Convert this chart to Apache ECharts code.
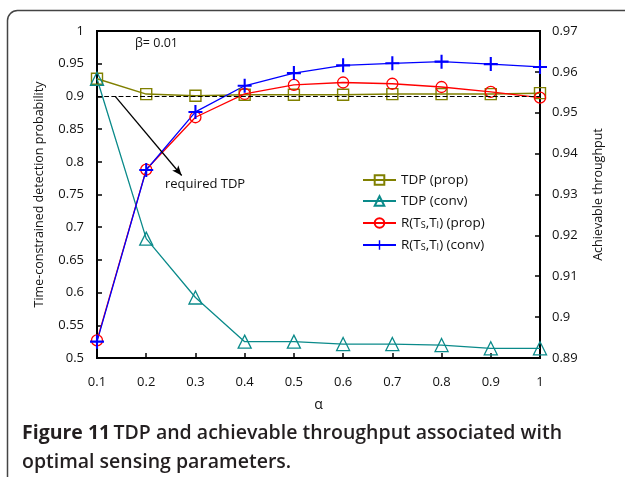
<!DOCTYPE html>
<html>
<head>
<meta charset="utf-8">
<script src="https://cdn.jsdelivr.net/npm/echarts@6/dist/echarts.min.js"></script>
<style>
  html, body { margin: 0; padding: 0; background: #fff; }
  #chart { width: 625px; height: 477px; }
</style>
</head>
<body>
<div id="chart"></div>
<script>
// alpha values on the x axis
const alphas = [0.1, 0.2, 0.3, 0.4, 0.5, 0.6, 0.7, 0.8, 0.9, 1.0];

// time-constrained detection probability (left axis)
const tdpProp = [0.927, 0.9035, 0.901, 0.9025, 0.9025, 0.9025, 0.9035, 0.9035, 0.9035, 0.905];
const tdpConv = [0.927, 0.6825, 0.5925, 0.525, 0.525, 0.5213, 0.5213, 0.5198, 0.5148, 0.5148];

// achievable throughput (right axis)
const rProp = [0.8943, 0.9361, 0.9489, 0.9546, 0.9568, 0.9574, 0.9571, 0.9563, 0.9551, 0.9537];
const rConv = [0.8940, 0.9360, 0.9502, 0.9566, 0.9597, 0.9616, 0.9621, 0.9625, 0.9619, 0.9612];

const requiredTdp = 0.9;
const beta = 0.01;

const FONT = 'Open Sans';
const pair = (ys) => alphas.map((a, i) => [a, ys[i]]);

const plusPath = 'path://M4.25,0H5.75V10H4.25Z M0,4.25H10V5.75H0Z';

const chart = echarts.init(document.getElementById('chart'));

const legendRich = {
  n: { fontFamily: FONT, fontSize: 13.5, color: '#111', lineHeight: 14 },
  s: { fontFamily: FONT, fontSize: 9, color: '#111', verticalAlign: 'bottom', padding: [6, 0, 0, 0], lineHeight: 14 }
};

chart.setOption({
  animation: false,
  textStyle: { fontFamily: FONT },
  grid: {
    left: 97, right: 85, top: 31, bottom: 119,
    show: true, borderColor: '#000', borderWidth: 2, backgroundColor: 'transparent'
  },
  xAxis: {
    type: 'value', min: 0.1, max: 1, interval: 0.1,
    name: 'α', nameLocation: 'middle', nameGap: 40,
    nameTextStyle: { fontFamily: FONT, fontSize: 14, color: '#111' },
    axisLine: { lineStyle: { color: '#000', width: 2 } },
    axisTick: { inside: true, length: 5, lineStyle: { color: '#000', width: 1.5 } },
    axisLabel: { fontSize: 13, color: '#111', margin: 18, formatter: v => String(+v.toFixed(1)) },
    splitLine: { show: false }
  },
  yAxis: [{
    type: 'value', min: 0.5, max: 1, interval: 0.05, position: 'left',
    name: 'Time-constrained detection probability', nameLocation: 'middle', nameGap: 51,
    nameTextStyle: { fontFamily: FONT, fontSize: 12.5, color: '#111' },
    axisLine: { show: true, lineStyle: { color: '#000', width: 2 } },
    axisTick: { show: true, inside: true, length: 5, lineStyle: { color: '#000', width: 1.5 } },
    axisLabel: { fontSize: 13, color: '#111', margin: 13, formatter: v => String(+v.toFixed(2)) },
    splitLine: { show: false }
  }, {
    type: 'value', min: 0.89, max: 0.97, interval: 0.01, position: 'right',
    name: 'Achievable throughput', nameLocation: 'middle', nameGap: 52,
    nameRotate: 90,
    nameTextStyle: { fontFamily: FONT, fontSize: 12.5, color: '#111' },
    axisLine: { show: true, lineStyle: { color: '#000', width: 2 } },
    axisTick: { show: true, inside: true, length: 5, lineStyle: { color: '#000', width: 1.5 } },
    axisLabel: { fontSize: 13, color: '#111', margin: 12, formatter: v => String(+v.toFixed(2)) },
    splitLine: { show: false }
  }],
  legend: {
    orient: 'vertical', left: 357, top: 168, padding: 5,
    itemWidth: 33, itemHeight: 12, itemGap: 7,
    textStyle: { fontFamily: FONT, fontSize: 13.5, color: '#111', rich: legendRich },
    formatter: name => {
      if (name.startsWith('R')) {
        const tag = name.endsWith('(prop)') ? ' (prop)' : ' (conv)';
        return '{n|R(T}{s|S}{n|,T}{s|I}{n|)' + tag + '}';
      }
      return '{n|' + name + '}';
    },
    data: ['TDP (prop)', 'TDP (conv)', 'R (prop)', 'R (conv)']
  },
  graphic: [
    {
      type: 'rect', silent: true,
      shape: { x: 7.5, y: 10.5, width: 700, height: 600, r: 10 },
      style: { fill: 'none', stroke: '#444', lineWidth: 1.5 }
    },
    {
      type: 'text', left: 135, top: 37,
      style: { text: 'β= ' + beta, fontFamily: FONT, fontSize: 12.5, fill: '#111' }
    },
    {
      type: 'text', left: 165, top: 178,
      style: { text: 'required TDP', fontFamily: FONT, fontSize: 13, fill: '#111' }
    },
    {
      type: 'text', left: 22, top: 419,
      style: {
        text: '{b|Figure 11} {n|TDP and achievable throughput associated with}\n{n|optimal sensing parameters.}',
        lineHeight: 29,
        rich: {
          b: { fontFamily: FONT, fontSize: 19.5, fontWeight: 'bold', fill: '#231f20', lineHeight: 29 },
          n: { fontFamily: FONT, fontSize: 19.5, fontWeight: 600, fill: '#231f20', lineHeight: 29 }
        }
      }
    }
  ],
  series: [
    {
      name: 'TDP (prop)', type: 'line', yAxisIndex: 0, data: pair(tdpProp),
      symbol: 'rect', symbolSize: 11,
      itemStyle: { color: 'rgba(255,255,255,0)', borderColor: '#808000', borderWidth: 1.4 },
      lineStyle: { color: '#808000', width: 1.5 },
      markLine: {
        silent: true, animation: false, label: { show: false },
        data: [
          [{ coord: [0.1, requiredTdp], symbol: 'none', lineStyle: { type: 'dashed', color: '#000', width: 1.2 } },
           { coord: [1, requiredTdp], symbol: 'none' }],
          [{ coord: [0.137, requiredTdp], symbol: 'none', lineStyle: { type: 'solid', color: '#000', width: 1.3 } },
           { coord: [0.272, 0.779], symbol: 'arrow', symbolSize: [6, 10] }]
        ]
      }
    },
    {
      name: 'TDP (conv)', type: 'line', yAxisIndex: 0, data: pair(tdpConv),
      symbol: 'triangle', symbolSize: 13,
      itemStyle: { color: 'rgba(255,255,255,0)', borderColor: '#0a8a8a', borderWidth: 1.3 },
      lineStyle: { color: '#0a8a8a', width: 1.3 }
    },
    {
      name: 'R (prop)', type: 'line', yAxisIndex: 1, data: pair(rProp),
      symbol: 'circle', symbolSize: 11,
      itemStyle: { color: 'rgba(255,255,255,0)', borderColor: '#ff0000', borderWidth: 1.3 },
      lineStyle: { color: '#ff0000', width: 1.3 }
    },
    {
      name: 'R (conv)', type: 'line', yAxisIndex: 1, data: pair(rConv),
      symbol: plusPath, symbolSize: 14,
      itemStyle: { color: '#0000ff' },
      lineStyle: { color: '#0000ff', width: 1.3 }
    }
  ]
});
</script>
</body>
</html>
